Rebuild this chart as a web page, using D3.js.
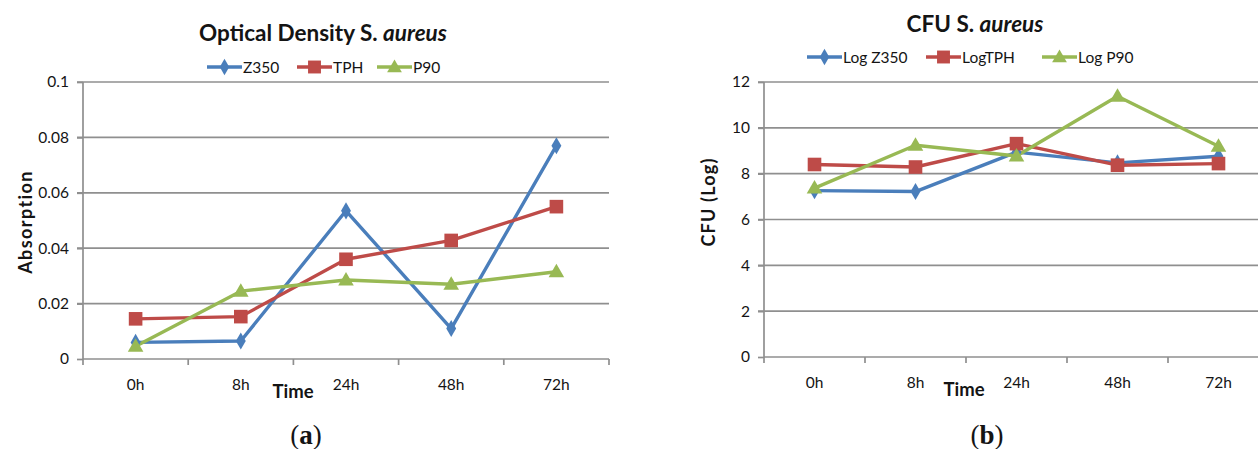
<!DOCTYPE html>
<html>
<head>
<meta charset="utf-8">
<script src="https://cdn.jsdelivr.net/npm/d3@7"></script>
<style>
  html, body { margin: 0; padding: 0; background: #fff; }
  svg { display: block; }
  text { font-family: Lato, "Open Sans", sans-serif; fill: #141414; }
</style>
</head>
<body>
<svg id="fig" width="1258" height="449"></svg>
<script>
// Sampling times shared by both panels
const times = ["0h", "8h", "24h", "48h", "72h"];

// Panel (a): optical density (absorption)
const odZ350 = [0.006, 0.0065, 0.0535, 0.011, 0.077];
const odTPH  = [0.0145, 0.0153, 0.036, 0.0428, 0.055];
const odP90  = [0.0046, 0.0245, 0.0285, 0.027, 0.0315];
const odTicks = [0, 0.02, 0.04, 0.06, 0.08, 0.1];
const odTickLabels = ["0", "0.02", "0.04", "0.06", "0.08", "0.1"];

// Panel (b): colony forming units (log)
const cfuZ350 = [7.26, 7.22, 8.94, 8.47, 8.76];
const cfuTPH  = [8.4, 8.29, 9.31, 8.37, 8.44];
const cfuP90  = [7.37, 9.24, 8.77, 11.38, 9.2];
const cfuTicks = [0, 2, 4, 6, 8, 10, 12];

const colors = { blue: "#4a7ebb", red: "#be4b48", green: "#98b954" };
const gridColor = "#8f8f8f";

const svg = d3.select("#fig");

function drawMarker(g, kind, color, x, y, scale = 1) {
  if (kind === "diamond") {
    g.append("path").attr("d", d3.symbol(d3.symbolDiamond, 85 * scale)())
      .attr("transform", `translate(${x},${y})`).attr("fill", color);
  } else if (kind === "square") {
    const h = 6.8 * Math.sqrt(scale);
    g.append("rect").attr("x", x - h).attr("y", y - h).attr("width", 2 * h).attr("height", 2 * h)
      .attr("fill", color);
  } else {
    g.append("path").attr("d", d3.symbol(d3.symbolTriangle, 105 * scale)())
      .attr("transform", `translate(${x},${y + 1})`).attr("fill", color);
  }
}

function panel(opts) {
  const g = svg.append("g");
  const x = d3.scaleBand().domain(times).range([opts.left, opts.left + opts.band * times.length]);
  const y = d3.scaleLinear().domain(opts.domain).range([opts.bottom, opts.top]);
  const right = Math.min(opts.left + opts.band * times.length, 1258);

  // horizontal gridlines
  g.append("g").selectAll("line").data(opts.ticks.slice(1)).join("line")
    .attr("x1", opts.left - 6).attr("x2", right)
    .attr("y1", d => y(d)).attr("y2", d => y(d))
    .attr("stroke", gridColor).attr("stroke-width", 1.7);

  // y axis
  const yAxis = d3.axisLeft(y).tickValues(opts.ticks).tickSize(6).tickPadding(8)
    .tickFormat((d, i) => opts.tickLabels ? opts.tickLabels[i] : d3.format("d")(d));
  const ya = g.append("g").attr("transform", `translate(${opts.left},0)`).call(yAxis);
  ya.select(".domain").attr("stroke", gridColor).attr("stroke-width", 1.7)
    .attr("d", `M0,${opts.top}V${opts.bottom}`);
  ya.selectAll(".tick line").attr("stroke", gridColor).attr("stroke-width", 1.7);
  ya.selectAll(".tick text").attr("font-size", 15.5).attr("fill", "#141414")
    .style("font-family", "Lato, sans-serif");

  // x axis: baseline, tick marks at category boundaries, labels at centers
  g.append("line").attr("x1", opts.left).attr("x2", right)
    .attr("y1", opts.bottom).attr("y2", opts.bottom)
    .attr("stroke", gridColor).attr("stroke-width", 1.7);
  const bounds = d3.range(times.length + 1).map(i => opts.left + i * x.bandwidth());
  g.append("g").selectAll("line").data(bounds.filter(b => b <= 1258)).join("line")
    .attr("x1", d => d).attr("x2", d => d)
    .attr("y1", opts.bottom).attr("y2", opts.bottom + 6)
    .attr("stroke", gridColor).attr("stroke-width", 1.7);
  g.append("g").selectAll("text").data(times).join("text")
    .attr("x", d => x(d) + x.bandwidth() / 2).attr("y", opts.bottom + 31)
    .attr("text-anchor", "middle").attr("font-size", 15.5).text(d => d);

  // series
  const line = d3.line().x((d, i) => x(times[i]) + x.bandwidth() / 2).y(d => y(d));
  opts.series.forEach(s => {
    g.append("path").datum(s.values).attr("d", line)
      .attr("fill", "none").attr("stroke", s.color).attr("stroke-width", 3.4)
      .attr("stroke-linejoin", "round");
  });
  opts.series.forEach(s => {
    s.values.forEach((v, i) => drawMarker(g, s.marker, s.color, x(times[i]) + x.bandwidth() / 2, y(v)));
  });

  // title
  const t = g.append("text").attr("x", opts.titleX).attr("y", opts.titleY)
    .attr("text-anchor", "middle").attr("font-size", 22.5).attr("font-weight", "bold");
  t.append("tspan").text(opts.title + " S. ");
  t.append("tspan").attr("font-style", "italic").text("aureus");

  // legend
  opts.series.forEach((s, i) => {
    const lx = opts.legendX[i];
    const ly = opts.legendY;
    g.append("line").attr("x1", lx).attr("x2", lx + 35).attr("y1", ly).attr("y2", ly)
      .attr("stroke", s.color).attr("stroke-width", 3.4);
    drawMarker(g, s.marker, s.color, lx + 17.5, ly, 0.9);
    g.append("text").attr("x", lx + 36).attr("y", ly + 5.5).attr("font-size", 15.5).text(s.name);
  });

  // axis titles
  g.append("text").attr("transform", `translate(${opts.yTitleX},${opts.yTitleY}) rotate(-90)`)
    .attr("text-anchor", "middle").attr("font-size", 18).attr("font-weight", "bold")
    .attr("letter-spacing", opts.yTitleSpacing).text(opts.yTitle);
  g.append("text").attr("x", opts.xTitleX).attr("y", opts.bottom + 39)
    .attr("text-anchor", "middle").attr("font-size", 18.5).attr("font-weight", "bold").text("Time");

  // panel letter
  const p = g.append("text").attr("x", opts.letterX).attr("y", 444).attr("text-anchor", "middle")
    .attr("font-size", 27).style("font-family", "'Liberation Serif', serif");
  p.append("tspan").text("(");
  p.append("tspan").attr("font-weight", "bold").text(opts.letter);
  p.append("tspan").text(")");
}

panel({
  left: 83, band: 105.2, top: 82, bottom: 359, domain: [0, 0.1],
  ticks: odTicks, tickLabels: odTickLabels,
  title: "Optical Density", titleX: 323, titleY: 41,
  legendX: [207, 297, 377], legendY: 67,
  yTitle: "Absorption", yTitleX: 32, yTitleY: 222, yTitleSpacing: 1.4,
  xTitleX: 293, letter: "a", letterX: 306,
  series: [
    { name: "Z350", values: odZ350, color: colors.blue, marker: "diamond" },
    { name: "TPH", values: odTPH, color: colors.red, marker: "square" },
    { name: "P90", values: odP90, color: colors.green, marker: "triangle" }
  ]
});

panel({
  left: 764, band: 101, top: 82, bottom: 357, domain: [0, 12],
  ticks: cfuTicks, tickLabels: null,
  title: "CFU", titleX: 975, titleY: 32,
  legendX: [807, 926, 1042], legendY: 57,
  yTitle: "CFU (Log)", yTitleX: 715, yTitleY: 202, yTitleSpacing: 1.2,
  xTitleX: 964, letter: "b", letterX: 987,
  series: [
    { name: "Log Z350", values: cfuZ350, color: colors.blue, marker: "diamond" },
    { name: "LogTPH", values: cfuTPH, color: colors.red, marker: "square" },
    { name: "Log P90", values: cfuP90, color: colors.green, marker: "triangle" }
  ]
});
</script>
</body>
</html>
